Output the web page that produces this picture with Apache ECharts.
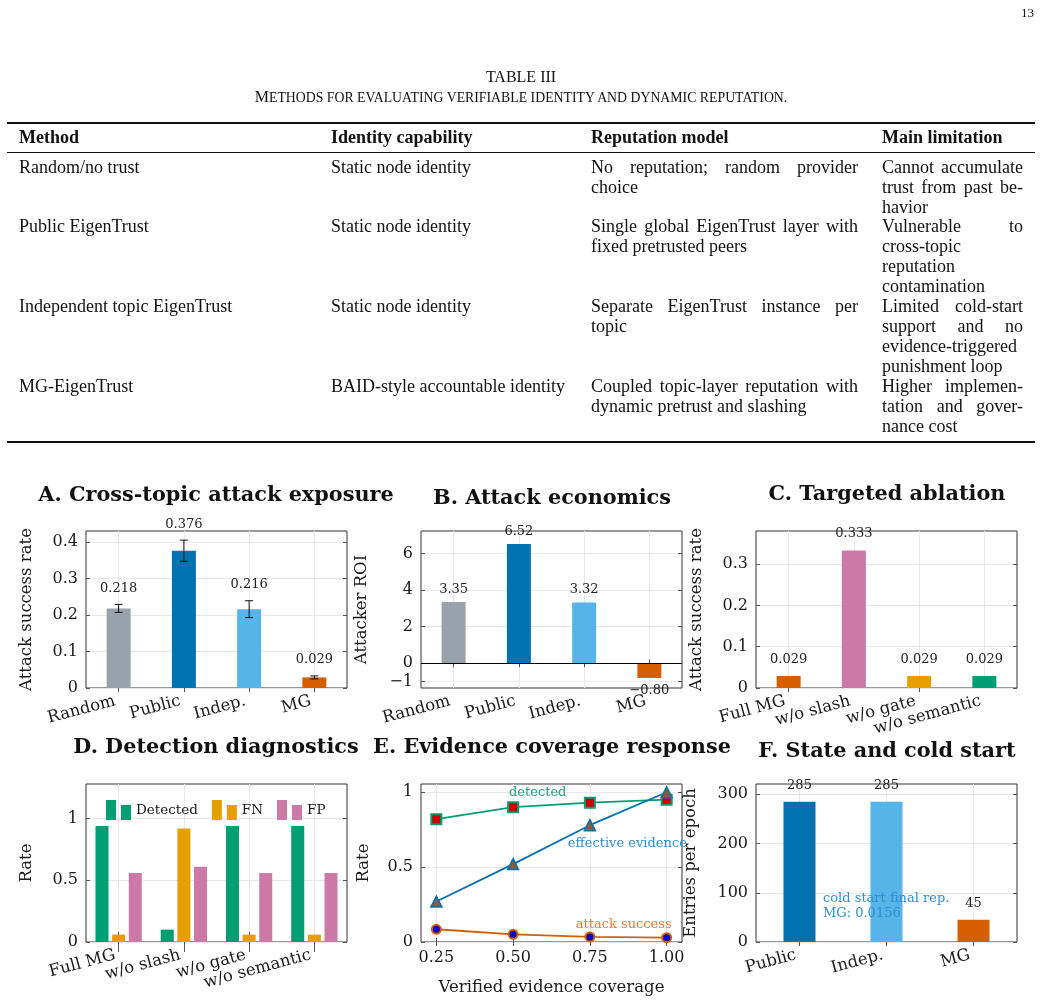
<!DOCTYPE html>
<html>
<head>
<meta charset="utf-8">
<script src="https://cdn.jsdelivr.net/npm/echarts@6/dist/echarts.min.js"></script>
<style>
html, body { margin: 0; padding: 0; background: #fff; }
#page { position: relative; width: 1042px; height: 1005px; overflow: hidden; font-family: 'Liberation Serif', serif; color: #111; }
#chart { position: absolute; left: 0; top: 0; width: 1042px; height: 1005px; }
.abs { position: absolute; white-space: nowrap; }
.rule { position: absolute; left: 7px; width: 1028px; background: #111; }
.cell { position: absolute; font-size: 18px; line-height: 19.9px; }
.cell div { white-space: nowrap; }
.cell .j { text-align: justify; text-align-last: justify; white-space: normal; }
.hd { position: absolute; top: 127px; font-weight: bold; font-size: 18px; line-height: 20px; }
.sc { font-size: 13.8px; }
</style>
</head>
<body>
<div id="page">
  <div id="chart"></div>

  <div class="abs" style="right:8px; top:5px; font-size:13px;">13</div>
  <div class="abs" style="left:0; width:1042px; text-align:center; top:68px; font-size:16px;">TABLE III</div>
  <div class="abs" style="left:0; width:1042px; text-align:center; top:88px; font-size:16px;">M<span class="sc">ETHODS FOR EVALUATING VERIFIABLE IDENTITY AND DYNAMIC REPUTATION.</span></div>

  <div class="rule" style="top:122px; height:2px;"></div>
  <div class="hd" style="left:19px;">Method</div>
  <div class="hd" style="left:331px;">Identity capability</div>
  <div class="hd" style="left:591px;">Reputation model</div>
  <div class="hd" style="left:882px;">Main limitation</div>
  <div class="rule" style="top:152px; height:1px;"></div>

  <!-- row 1 -->
  <div class="cell" style="left:19px; top:158px;">Random/no trust</div>
  <div class="cell" style="left:331px; top:158px;">Static node identity</div>
  <div class="cell" style="left:591px; top:158px; width:267px;"><div class="j">No reputation; random provider</div><div>choice</div></div>
  <div class="cell" style="left:882px; top:158px; width:141px;"><div class="j">Cannot accumulate</div><div class="j">trust from past be-</div><div>havior</div></div>
  <!-- row 2 -->
  <div class="cell" style="left:19px; top:217px;">Public EigenTrust</div>
  <div class="cell" style="left:331px; top:217px;">Static node identity</div>
  <div class="cell" style="left:591px; top:217px; width:267px;"><div class="j">Single global EigenTrust layer with</div><div>fixed pretrusted peers</div></div>
  <div class="cell" style="left:882px; top:217px; width:141px;"><div class="j">Vulnerable to</div><div>cross-topic</div><div>reputation</div><div>contamination</div></div>
  <!-- row 3 -->
  <div class="cell" style="left:19px; top:297px;">Independent topic EigenTrust</div>
  <div class="cell" style="left:331px; top:297px;">Static node identity</div>
  <div class="cell" style="left:591px; top:297px; width:267px;"><div class="j">Separate EigenTrust instance per</div><div>topic</div></div>
  <div class="cell" style="left:882px; top:297px; width:141px;"><div class="j">Limited cold-start</div><div class="j">support and no</div><div class="j">evidence-triggered</div><div>punishment loop</div></div>
  <!-- row 4 -->
  <div class="cell" style="left:19px; top:377px;">MG-EigenTrust</div>
  <div class="cell" style="left:331px; top:377px;">BAID-style accountable identity</div>
  <div class="cell" style="left:591px; top:377px; width:267px;"><div class="j">Coupled topic-layer reputation with</div><div>dynamic pretrust and slashing</div></div>
  <div class="cell" style="left:882px; top:377px; width:141px;"><div class="j">Higher implemen-</div><div class="j">tation and gover-</div><div>nance cost</div></div>
  <div class="rule" style="top:441px; height:2px;"></div>
</div>

<script>
// ---- data ----
const methods = ['Random', 'Public', 'Indep.', 'MG'];
const attackRate = [0.218, 0.376, 0.216, 0.029];
const attackErr = [0.011, 0.029, 0.023, 0.004];
const attackerRoi = [3.35, 6.52, 3.32, -0.80];

const ablations = ['Full MG', 'w/o slash', 'w/o gate', 'w/o semantic'];
const ablationRate = [0.029, 0.333, 0.029, 0.029];

const detectedRate = [0.94, 0.10, 0.94, 0.94];
const fnRate = [0.06, 0.92, 0.06, 0.06];
const fpRate = [0.56, 0.61, 0.56, 0.56];

const coverage = [0.25, 0.50, 0.75, 1.00];
const covDetected = [0.82, 0.90, 0.93, 0.95];
const covEffective = [0.27, 0.52, 0.78, 1.00];
const covAttack = [0.085, 0.051, 0.034, 0.029];

const stateMethods = ['Public', 'Indep.', 'MG'];
const stateEntries = [285, 285, 45];

// tick labels
const ticksA = [0, 0.1, 0.2, 0.3, 0.4];
const ticksB = [-1, 0, 2, 4, 6];
const ticksC = [0, 0.1, 0.2, 0.3];
const ticksRate = [0, 0.5, 1];
const ticksCov = [0.25, 0.50, 0.75, 1.00];
const ticksF = [0, 100, 200, 300];

// ---- styles ----
const SERIF = 'DejaVu Serif';
const TXT = '#1a1a1a';
const GRIDC = '#e8e8e8';
const TICKC = '#555';
const C = {
  grey: '#99a1aa', blue: '#0072B2', sky: '#56B4E9', orange: '#D55E00',
  yellow: '#E69F00', green: '#009E73', pink: '#CC79A7'
};
const colorsA = [C.grey, C.blue, C.sky, C.orange];
const colorsC = [C.orange, C.pink, C.yellow, C.green];
const colorsF = [C.blue, C.sky, C.orange];

const grids = [
  { left: 86, top: 531, width: 261, height: 157 },
  { left: 421, top: 531, width: 261, height: 157 },
  { left: 756, top: 531, width: 261, height: 157 },
  { left: 86, top: 784, width: 261, height: 158 },
  { left: 421, top: 784, width: 261, height: 158 },
  { left: 756, top: 784, width: 261, height: 158 }
].map(g => Object.assign(g, { show: true, borderColor: '#333', borderWidth: 1, backgroundColor: '#fff' }));

const nameStyle = { fontFamily: SERIF, fontSize: 16.5, color: TXT };
const labelStyle = { fontFamily: SERIF, fontSize: 16, color: TXT };

function tickStyle(custom) {
  const t = { show: true, inside: true, length: 4, lineStyle: { color: TICKC } };
  if (custom) t.customValues = custom;
  return t;
}

// outside = long ticks poking out of the frame (panel D)
function catX(g, cats, outside) {
  const tick = Object.assign(tickStyle(), { alignWithLabel: true });
  if (outside) Object.assign(tick, { inside: false, length: 10 });
  return [
    {
      type: 'category', gridIndex: g, data: cats, position: 'bottom',
      axisLine: { show: false },
      axisTick: tick,
      axisLabel: { rotate: 15, margin: 3, interval: 0, verticalAlign: 'top', padding: [0, 6, 0, 0], fontSize: 16.5, fontFamily: SERIF, color: TXT },
      splitLine: { show: true, alignWithLabel: true, lineStyle: { color: GRIDC } }
    },
    {
      type: 'category', gridIndex: g, data: cats, position: 'top',
      axisLine: { show: false },
      axisTick: tick,
      axisLabel: { show: false }, splitLine: { show: false }
    }
  ];
}

function valX(g, min, max, ticks, fmt, name, gap) {
  return [
    {
      type: 'value', gridIndex: g, position: 'bottom', min, max,
      name, nameLocation: 'middle', nameGap: gap, nameTextStyle: nameStyle,
      axisLine: { show: false }, axisTick: tickStyle(ticks),
      axisLabel: Object.assign({ customValues: ticks, formatter: fmt, margin: 8 }, labelStyle),
      splitLine: { show: true, lineStyle: { color: GRIDC } }
    },
    {
      type: 'value', gridIndex: g, position: 'top', min, max,
      axisLine: { show: false }, axisTick: tickStyle(ticks),
      axisLabel: { show: false }, splitLine: { show: false }
    }
  ];
}

function valY(g, min, max, ticks, fmt, name, gap) {
  return [
    {
      type: 'value', gridIndex: g, position: 'left', min, max,
      name, nameLocation: 'middle', nameGap: gap, nameTextStyle: nameStyle,
      axisLine: { show: false }, axisTick: tickStyle(ticks),
      axisLabel: Object.assign({ customValues: ticks, formatter: fmt, margin: 8 }, labelStyle),
      splitLine: { show: true, lineStyle: { color: GRIDC } }
    },
    {
      type: 'value', gridIndex: g, position: 'right', min, max,
      axisLine: { show: false }, axisTick: tickStyle(ticks),
      axisLabel: { show: false }, splitLine: { show: false }
    }
  ];
}

const plain = v => String(v);
const signed = v => (v < 0 ? '\u2212' : '') + String(Math.abs(v));
const signed2 = v => (v < 0 ? '\u2212' : '') + Math.abs(v).toFixed(2);

const valueLabel = { fontFamily: SERIF, fontSize: 13, color: '#222' };

function coloredBars(values, colors) {
  return values.map((v, i) => ({ value: v, itemStyle: { color: colors[i] } }));
}

function note(text, color, coord) {
  return {
    symbol: 'circle', symbolSize: 1, itemStyle: { color: 'rgba(0,0,0,0)' },
    label: { show: true, position: 'inside', formatter: text, fontFamily: SERIF, fontSize: 13, color },
    data: [{ coord }]
  };
}

function titleText(text, x, y) {
  return {
    type: 'text', x, y,
    style: { text, textAlign: 'center', textVerticalAlign: 'middle', font: 'bold 20.8px "DejaVu Serif"', fill: '#111' }
  };
}

const chart = echarts.init(document.getElementById('chart'), null, { renderer: 'canvas' });

const option = {
  animation: false,
  backgroundColor: 'transparent',
  grid: grids,
  xAxis: [].concat(
    catX(0, methods),
    catX(1, methods),
    catX(2, ablations),
    catX(3, ablations, true),
    valX(4, 0.2, 1.05, ticksCov, v => v.toFixed(2), 'Verified evidence coverage', 37),
    catX(5, stateMethods)
  ),
  yAxis: [].concat(
    valY(0, 0, 0.43, ticksA, plain, 'Attack success rate', 51),
    valY(1, -1.35, 7.23, ticksB, signed, 'Attacker ROI', 51),
    valY(2, 0, 0.38, ticksC, plain, 'Attack success rate', 51),
    valY(3, 0, 1.28, ticksRate, plain, 'Rate', 51),
    valY(4, 0, 1.055, ticksRate, plain, 'Rate', 49),
    valY(5, 0, 321, ticksF, plain, 'Entries per epoch', 57)
  ),
  legend: {
    data: ['Detected', 'FN', 'FP'],
    left: 101, top: 795,
    itemWidth: 25, itemHeight: 20, itemGap: 14,
    icon: 'path://M0,0h10v20h-10z M15,5h10v15h-10z',
    textStyle: { fontFamily: SERIF, fontSize: 13.5, color: TXT }
  },
  graphic: [
    titleText('A. Cross-topic attack exposure', 216, 496),
    titleText('B. Attack economics', 552, 499),
    titleText('C. Targeted ablation', 887, 495),
    titleText('D. Detection diagnostics', 216, 748),
    titleText('E. Evidence coverage response', 552, 748),
    titleText('F. State and cold start', 887, 752),
    { type: 'text', x: 823, y: 891, z: 100, style: { text: 'cold start final rep.\nMG: 0.0156', lineHeight: 15, font: '13px "DejaVu Serif"', fill: '#2f8fd0' } }
  ],
  series: [
    // A
    {
      type: 'bar', xAxisIndex: 0, yAxisIndex: 0, barWidth: 24,
      data: coloredBars(attackRate, colorsA)
    },
    {
      type: 'custom', xAxisIndex: 0, yAxisIndex: 0, z: 5,
      data: attackRate.map((v, i) => [i, v, attackErr[i]]),
      renderItem: (params, api) => {
        const x = api.value(0), v = api.value(1), e = api.value(2);
        const top = api.coord([x, v + e]);
        const bot = api.coord([x, v - e]);
        const w = 4;
        const st = { stroke: '#111', lineWidth: 1 };
        return {
          type: 'group',
          children: [
            { type: 'line', shape: { x1: top[0], y1: top[1], x2: bot[0], y2: bot[1] }, style: st },
            { type: 'line', shape: { x1: top[0] - w, y1: top[1], x2: top[0] + w, y2: top[1] }, style: st },
            { type: 'line', shape: { x1: bot[0] - w, y1: bot[1], x2: bot[0] + w, y2: bot[1] }, style: st },
            { type: 'text', style: { text: v.toFixed(3), x: top[0], y: top[1] - 16, textAlign: 'center', textVerticalAlign: 'middle', font: '13px "DejaVu Serif"', fill: '#222' } }
          ]
        };
      }
    },
    // B
    {
      type: 'bar', xAxisIndex: 2, yAxisIndex: 2, barWidth: 24,
      data: coloredBars(attackerRoi, colorsA).map(d => Object.assign(d, { label: { position: d.value < 0 ? 'bottom' : 'top' } })),
      label: Object.assign({ show: true, distance: 6, formatter: p => signed2(p.value) }, valueLabel),
      markLine: {
        silent: true, symbol: 'none', label: { show: false },
        lineStyle: { color: '#000', width: 1.2, type: 'solid' },
        data: [{ yAxis: 0 }]
      }
    },
    // C
    {
      type: 'bar', xAxisIndex: 4, yAxisIndex: 4, barWidth: 24,
      data: coloredBars(ablationRate, colorsC),
      label: Object.assign({ show: true, position: 'top', distance: 10, formatter: p => p.value.toFixed(3) }, valueLabel)
    },
    // D
    {
      name: 'Detected', type: 'bar', xAxisIndex: 6, yAxisIndex: 6, barWidth: 13, barGap: '28%',
      itemStyle: { color: C.green }, data: detectedRate
    },
    {
      name: 'FN', type: 'bar', xAxisIndex: 6, yAxisIndex: 6, barWidth: 13, barGap: '28%',
      itemStyle: { color: C.yellow }, data: fnRate
    },
    {
      name: 'FP', type: 'bar', xAxisIndex: 6, yAxisIndex: 6, barWidth: 13, barGap: '28%',
      itemStyle: { color: C.pink }, data: fpRate
    },
    // E
    {
      name: 'detected', type: 'line', xAxisIndex: 8, yAxisIndex: 8,
      data: coverage.map((x, i) => [x, covDetected[i]]),
      lineStyle: { color: C.green, width: 1.8 },
      symbol: 'rect', symbolSize: 10,
      itemStyle: { color: '#cc0000', borderColor: C.green, borderWidth: 2 },
      markPoint: note('detected', '#20a07e', [0.58, 0.995])
    },
    {
      name: 'effective evidence', type: 'line', xAxisIndex: 8, yAxisIndex: 8,
      data: coverage.map((x, i) => [x, covEffective[i]]),
      lineStyle: { color: C.blue, width: 1.8 },
      symbol: 'triangle', symbolSize: 11,
      itemStyle: { color: '#8a5a3c', borderColor: C.blue, borderWidth: 1.5 },
      markPoint: note('effective evidence', '#2f8fd0', [0.872, 0.66])
    },
    {
      name: 'attack success', type: 'line', xAxisIndex: 8, yAxisIndex: 8,
      data: coverage.map((x, i) => [x, covAttack[i]]),
      lineStyle: { color: C.orange, width: 1.8 },
      symbol: 'circle', symbolSize: 9,
      itemStyle: { color: '#0000cc', borderColor: C.orange, borderWidth: 2 },
      markPoint: note('attack success', '#e57a33', [0.86, 0.118])
    },
    // F
    {
      type: 'bar', xAxisIndex: 10, yAxisIndex: 10, barWidth: 32,
      data: coloredBars(stateEntries, colorsF),
      label: Object.assign({ show: true, position: 'top', distance: 10 }, valueLabel)
    }
  ]
};

chart.setOption(option);
</script>
</body>
</html>
